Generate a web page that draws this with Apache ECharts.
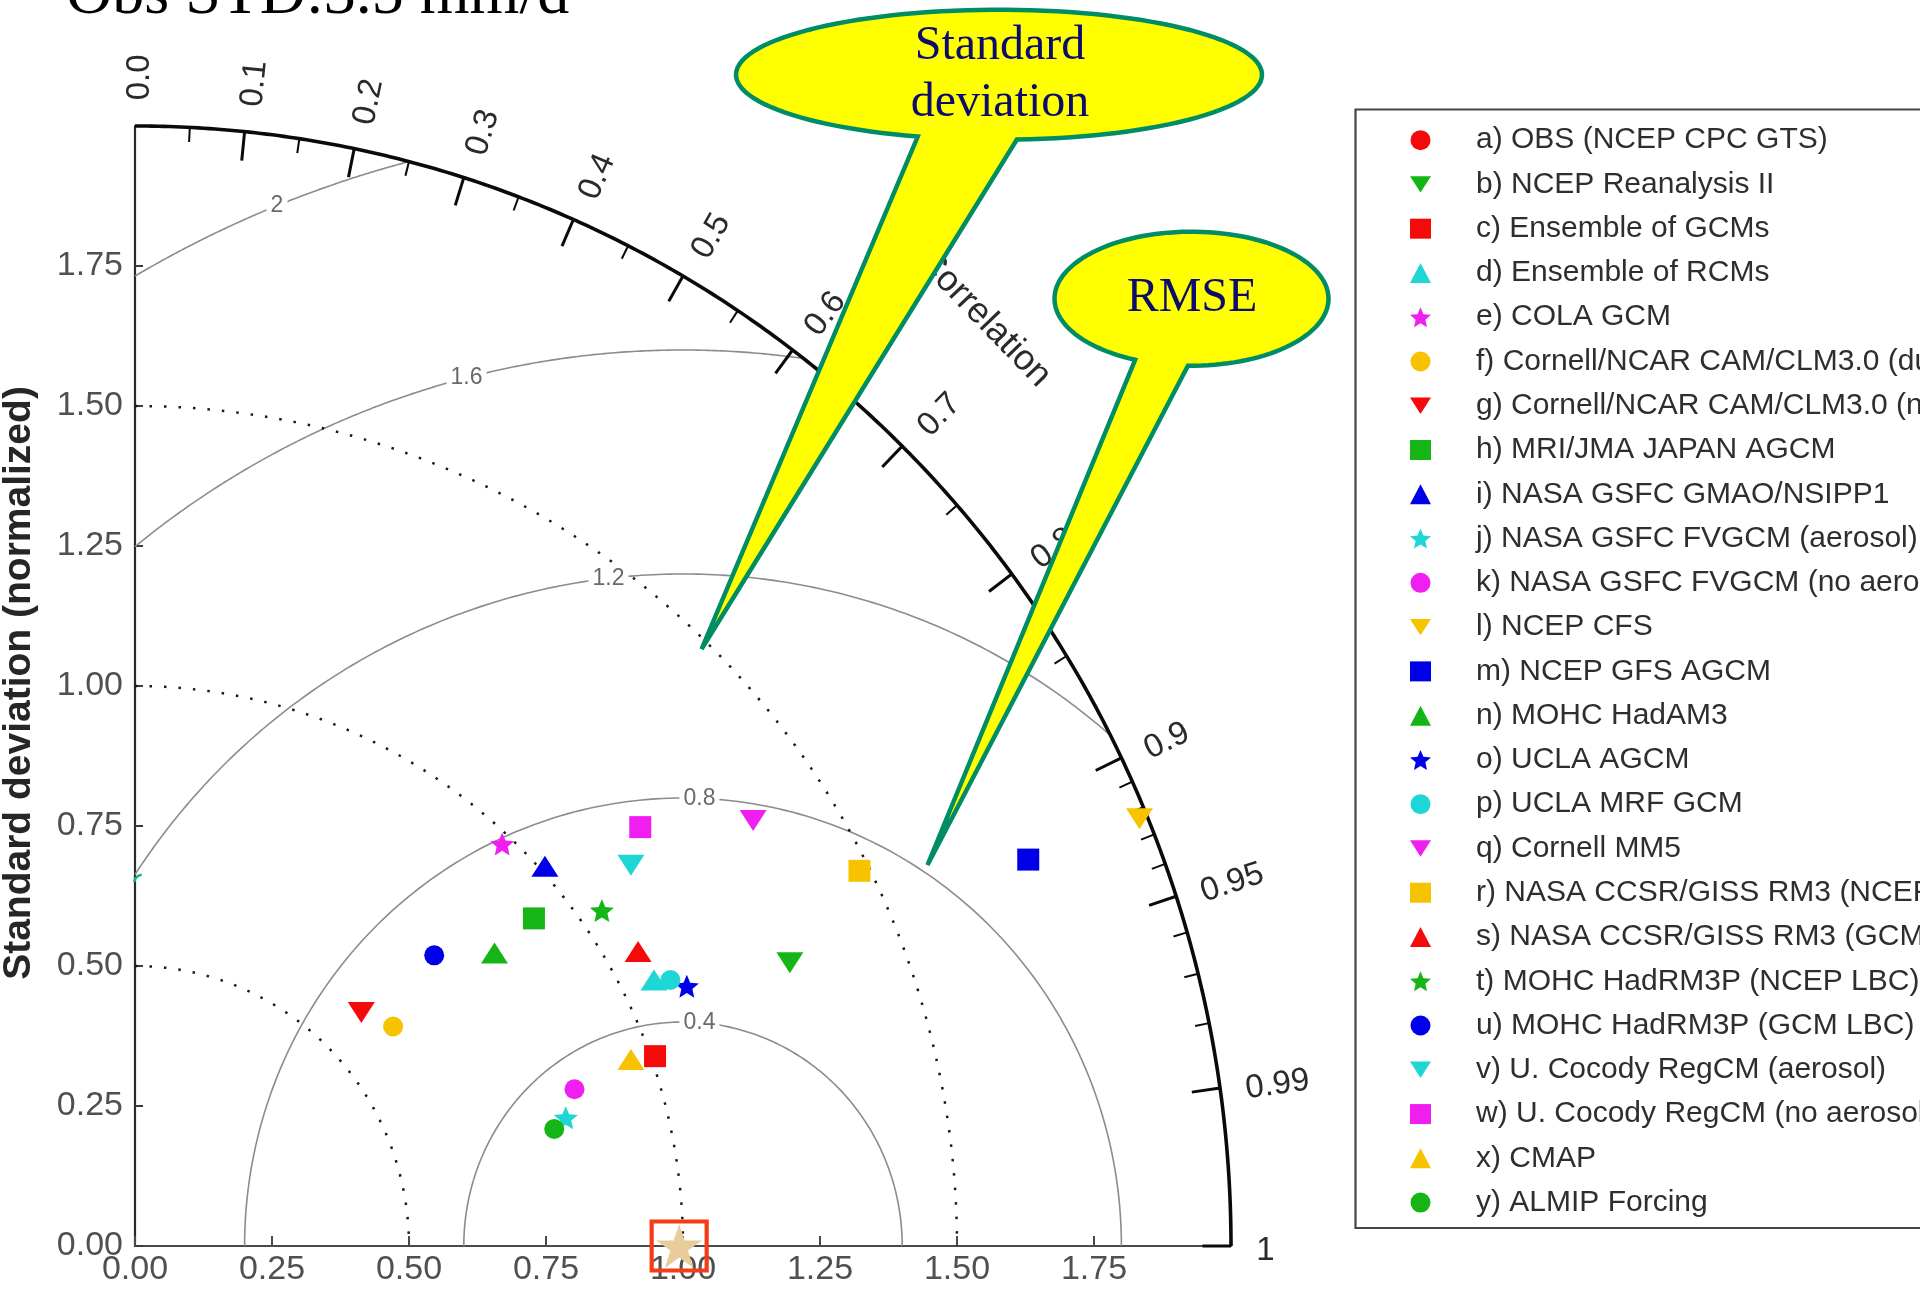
<!DOCTYPE html>
<html><head><meta charset="utf-8">
<script src="https://cdn.jsdelivr.net/npm/echarts@6/dist/echarts.min.js"></script>
<style>html,body{margin:0;padding:0;background:#fff;overflow:hidden}#chart{width:1920px;height:1291px}</style>
</head><body><div id="chart"></div>
<script>
// ---------------- data ----------------
const modelNames = [
  "a) OBS (NCEP CPC GTS)","b) NCEP Reanalysis II","c) Ensemble of GCMs","d) Ensemble of RCMs",
  "e) COLA GCM","f) Cornell/NCAR CAM/CLM3.0 (dust)","g) Cornell/NCAR CAM/CLM3.0 (no dust)",
  "h) MRI/JMA JAPAN AGCM","i) NASA GSFC GMAO/NSIPP1","j) NASA GSFC FVGCM (aerosol)",
  "k) NASA GSFC FVGCM (no aerosol)","l) NCEP CFS","m) NCEP GFS AGCM","n) MOHC HadAM3",
  "o) UCLA AGCM","p) UCLA MRF GCM","q) Cornell MM5","r) NASA CCSR/GISS RM3 (NCEP LBC)",
  "s) NASA CCSR/GISS RM3 (GCM LBC)","t) MOHC HadRM3P (NCEP LBC)","u) MOHC HadRM3P (GCM LBC)",
  "v) U. Cocody RegCM (aerosol)","w) U. Cocody RegCM (no aerosol)","x) CMAP","y) ALMIP Forcing"
];
const modelShapes = ["circle","invtri","rect","tri","star","circle","invtri","rect","tri","star",
  "circle","invtri","rect","tri","star","circle","invtri","rect","tri","star","circle","invtri","rect","tri","circle"];
const modelColors = ["red","green","red","cyan","magenta","gold","red","green","blue","cyan",
  "magenta","gold","blue","green","blue","cyan","magenta","gold","red","green","blue","cyan","magenta","gold","green"];
// normalized std * correlation (x) and std * sin(acos(corr)) (y)
const modelX = [null,1.195,0.949,0.947,0.670,0.471,0.413,0.728,0.748,0.786,0.802,1.833,1.630,0.656,1.007,0.977,1.128,1.322,0.918,0.852,0.546,0.905,0.922,0.905,0.765];
const modelY = [null,0.506,0.339,0.475,0.718,0.392,0.417,0.585,0.678,0.229,0.280,0.763,0.690,0.523,0.464,0.475,0.760,0.670,0.526,0.599,0.519,0.680,0.748,0.333,0.209];
const refPoint = [0.993, 0];
const corrMajor = [0.1,0.2,0.3,0.4,0.5,0.6,0.7,0.8,0.9,0.95,0.99,1.0];
const corrMinor = [0.05,0.15,0.25,0.35,0.45,0.55,0.65,0.75,0.85,0.91,0.92,0.93,0.94,0.96,0.97,0.98];
const corrLabelValues = [0.0,0.1,0.2,0.3,0.4,0.5,0.6,0.7,0.8,0.9,0.95,0.99,1.0];
const corrLabelTexts = ["0.0","0.1","0.2","0.3","0.4","0.5","0.6","0.7","0.8","0.9","0.95","0.99","1"];
const stdArcs = [0.5, 1.0, 1.5];
const rmseArcs = [0.4, 0.8, 1.2, 1.6, 2.0];
const rmseLabels = ["0.4","0.8","1.2","1.6","2"];
const rmseLabelX = [1.03, 1.03, 0.864, 0.605, 0.259];
const stdMax = 2.0;

// ---------------- styles ----------------
const palette = {red:'#f50a0a', green:'#16b516', cyan:'#1fd6d6', magenta:'#f01ef0', blue:'#0000e8', gold:'#f7c200'};
const STAR = 'path://M50,0 L61.8,35.4 L100,35.4 L69.1,57.3 L80.9,95.1 L50,72.4 L19.1,95.1 L30.9,57.3 L0,35.4 L38.2,35.4 Z';
const FATSTAR = 'path://M50,0 L64,33 L100,36 L73,59 L81,95 L50,76 L19,95 L27,59 L0,36 L36,33 Z';
const INVTRI = 'path://M0,0 L100,0 L50,78 Z';
const shapeSymbol = {circle:'circle', rect:'rect', tri:'triangle', invtri:INVTRI, star:FATSTAR};
const shapeSize = {circle:20, rect:22, tri:[27,21], invtri:[27,21], star:[24,23]};
const SANS = 'Liberation Sans';
const SERIF = 'Liberation Serif';

const chart = echarts.init(document.getElementById('chart'), null, {renderer:'canvas'});

function arcPoints(api, cx, cy, r, a0, a1, n) {
  const pts = [];
  for (let k = 0; k <= n; k++) {
    const a = a0 + (a1 - a0) * k / n;
    pts.push(api.coord([cx + r * Math.cos(a), cy + r * Math.sin(a)]));
  }
  return pts;
}

function renderGuides(params, api) {
  const ch = [];
  rmseArcs.forEach(r => {
    const c0 = (stdMax * stdMax - 1 - r * r) / (2 * r);
    const a0 = c0 >= 1 ? 0 : Math.acos(c0);
    const c1 = -1 / r;
    const a1 = c1 <= -1 ? Math.PI : Math.acos(c1);
    ch.push({type:'polyline', silent:true, shape:{points:arcPoints(api, 1, 0, r, a0, a1, 200)},
      style:{stroke:'#8c8c8c', lineWidth:1.6, fill:null}});
  });
  stdArcs.forEach(r => {
    ch.push({type:'polyline', silent:true, shape:{points:arcPoints(api, 0, 0, r, Math.PI/2, 0, 200)},
      style:{stroke:'#1a1a1a', lineWidth:2.5, lineDash:[2.5, 12], fill:null}});
  });
  ch.push({type:'polyline', silent:true, shape:{points:arcPoints(api, 0, 0, stdMax, 0, Math.PI/2, 300)},
    style:{stroke:'#0a0a0a', lineWidth:3.6, fill:null}});
  const tick = (c, len, w) => {
    const t = Math.acos(c);
    const p1 = api.coord([stdMax*Math.cos(t), stdMax*Math.sin(t)]);
    const p2 = api.coord([(stdMax-len)*Math.cos(t), (stdMax-len)*Math.sin(t)]);
    ch.push({type:'line', silent:true, shape:{x1:p1[0], y1:p1[1], x2:p2[0], y2:p2[1]}, style:{stroke:'#0a0a0a', lineWidth:w}});
  };
  corrMajor.forEach(c => tick(c, 0.052, 3));
  corrMinor.forEach(c => tick(c, 0.026, 2));
  corrLabelValues.forEach((c, i) => {
    const t = Math.acos(c);
    const p = api.coord([2.046*Math.cos(t), 2.046*Math.sin(t)]);
    ch.push({type:'text', silent:true, x:p[0], y:p[1], rotation:t,
      style:{text:corrLabelTexts[i], x:0, y:5, fontFamily:SANS, fontSize:33, fill:'#2a2a2a', align:'left', verticalAlign:'middle'}});
  });
  const ca = 46.93 * Math.PI / 180;
  const cp = api.coord([2.268*Math.cos(ca), 2.268*Math.sin(ca)]);
  ch.push({type:'text', silent:true, x:cp[0], y:cp[1], rotation:-46*Math.PI/180,
    style:{text:'Correlation', fontFamily:SANS, fontSize:36, fill:'#2a2a2a', align:'center', verticalAlign:'middle'}});
  rmseArcs.forEach((r, i) => {
    const x = rmseLabelX[i];
    const y = Math.sqrt(Math.max(0, r*r - (x-1)*(x-1)));
    const p = api.coord([x, y]);
    ch.push({type:'text', silent:true, x:p[0], y:p[1],
      style:{text:rmseLabels[i], fontFamily:SANS, fontSize:23, fill:'#6a6a6a', align:'center', verticalAlign:'middle',
        backgroundColor:'#ffffff', padding:[1,4,1,4]}});
  });
  const q = api.coord([0, Math.sqrt(1.2*1.2 - 1)]);
  ch.push({type:'arc', silent:true, shape:{cx:q[0]+8, cy:q[1]+9, r:9, startAngle:Math.PI*1.05, endAngle:Math.PI*1.45},
    style:{stroke:'#14b38c', lineWidth:2.5, fill:null}});
  const rp = api.coord(refPoint);
  ch.push({type:'rect', silent:true, shape:{x:rp[0]-27.5, y:rp[1]-24.5, width:55, height:49},
    style:{stroke:'#f43c18', lineWidth:4.2, fill:null}, z2:10});
  return {type:'group', children:ch};
}

const series = [{
  type:'custom', name:'guides', coordinateSystem:'cartesian2d', clip:false, z:1, silent:true,
  data:[[0,0]], encode:{x:0, y:1}, renderItem:renderGuides
}];
modelNames.forEach((n, i) => {
  const sh = modelShapes[i];
  series.push({
    type:'scatter', name:n, z:3, clip:false,
    symbol:shapeSymbol[sh], symbolSize:shapeSize[sh],
    itemStyle:{color:palette[modelColors[i]], opacity:1},
    data: modelX[i] === null ? [] : [[modelX[i], modelY[i]]]
  });
});
series.push({type:'scatter', name:'reference', z:5, clip:false, symbol:STAR, symbolSize:[46,44],
  itemStyle:{color:'#e8cc9a', opacity:1}, data:[refPoint]});

// callout balloons: ellipse outline from one tail-base angle over the top to the other, then the tail tip
function balloonPoints(cx, cy, rx, ry, t0, t1, tip) {
  const pts = [];
  const n = 120;
  for (let k = 0; k <= n; k++) {
    const t = (t0 + (t1 - t0) * k / n) * Math.PI / 180;
    pts.push([cx + rx * Math.cos(t), cy + ry * Math.sin(t)]);
  }
  pts.push(tip);
  return pts;
}
const balloon1 = balloonPoints(999, 74.7, 263, 65, 108, 446.1, [701.6, 649]);
const balloon2 = balloonPoints(1191.5, 298.7, 137, 67, 114.3, 451.5, [927.5, 865]);

const option = {
  backgroundColor:'#ffffff',
  animation:false,
  grid:{left:135, top:126, width:1096, height:1120},
  xAxis:{type:'value', min:0, max:2, interval:0.25, z:0,
    axisLine:{show:true, onZero:false, lineStyle:{color:'#4a4a4a', width:2.2}},
    axisTick:{show:true, inside:true, length:10, lineStyle:{color:'#4a4a4a', width:2}},
    axisLabel:{fontFamily:SANS, fontSize:34, color:'#505050', margin:7, formatter:v => v >= 2 ? '' : v.toFixed(2)},
    splitLine:{show:false}},
  yAxis:{type:'value', min:0, max:2, interval:0.25, z:0,
    axisLine:{show:true, onZero:false, lineStyle:{color:'#2a2a2a', width:2.2}},
    axisTick:{show:true, inside:true, length:8, lineStyle:{color:'#3a3a3a', width:2}},
    axisLabel:{fontFamily:SANS, fontSize:34, color:'#505050', margin:12, formatter:v => v >= 2 ? '' : v.toFixed(2)},
    splitLine:{show:false}},
  legend:{
    data:modelNames, orient:'vertical', left:1410, top:118, padding:0, itemGap:0,
    itemWidth:21, itemHeight:20, selectedMode:false,
    textStyle:{fontFamily:SANS, fontSize:30, color:'#2e2e2e', lineHeight:44.27, padding:[0,0,0,40]}
  },
  graphic:[
    {type:'rect', z:0, silent:true, shape:{x:1355.5, y:109.5, width:700, height:1118.5},
      style:{fill:'#ffffff', stroke:'#454545', lineWidth:2.2}},
    {type:'text', z:50, silent:true, x:66, y:-4,
      style:{text:'Obs STD:3.5 mm/d', fontFamily:SERIF, fontSize:64, fill:'#000', align:'left', verticalAlign:'middle'}},
    {type:'text', z:50, silent:true, x:19.5, y:683, rotation:Math.PI/2,
      style:{text:'Standard deviation (normalized)', fontFamily:SANS, fontWeight:'bold', fontSize:39, fill:'#262626', align:'center', verticalAlign:'middle'}},
    {type:'polygon', z:100, silent:true, shape:{points:balloon1},
      style:{fill:'#ffff00', stroke:'#008c64', lineWidth:4.5}},
    {type:'polygon', z:100, silent:true, shape:{points:balloon2},
      style:{fill:'#ffff00', stroke:'#008c64', lineWidth:4.5}},
    {type:'text', z:101, silent:true, x:1000, y:46.5,
      style:{text:'Standard', fontFamily:SERIF, fontSize:48, fill:'#0c0c6c', align:'center', verticalAlign:'middle'}},
    {type:'text', z:101, silent:true, x:1000, y:103,
      style:{text:'deviation', fontFamily:SERIF, fontSize:48, fill:'#0c0c6c', align:'center', verticalAlign:'middle'}},
    {type:'text', z:101, silent:true, x:1192, y:298,
      style:{text:'RMSE', fontFamily:SERIF, fontSize:48, fill:'#0c0c6c', align:'center', verticalAlign:'middle'}}
  ],
  series:series
};
chart.setOption(option);
</script>
</body></html>
